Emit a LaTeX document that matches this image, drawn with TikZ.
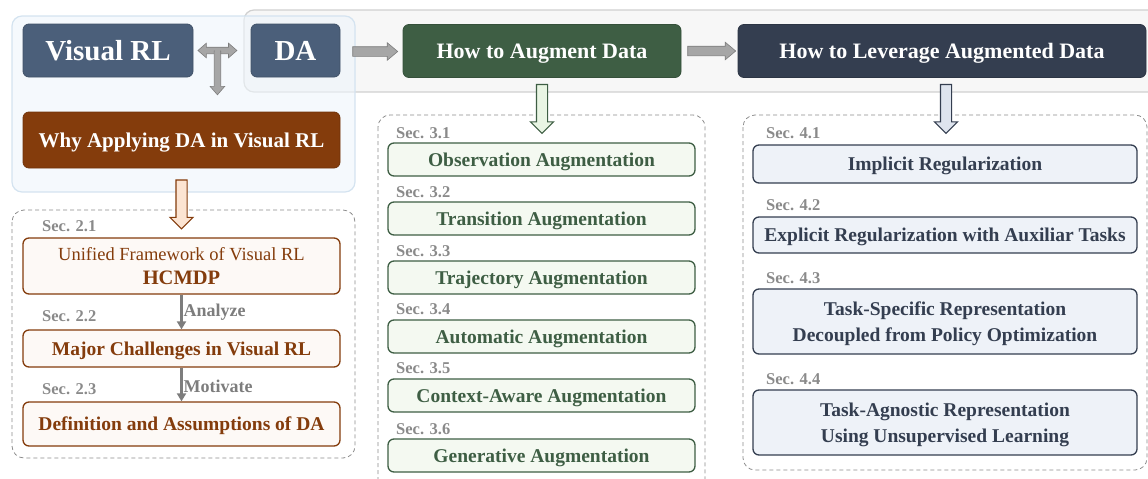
\documentclass[tikz,border=0pt]{standalone}
\usepackage{fontspec}
\setmainfont{Liberation Serif}
\usetikzlibrary{positioning,calc,shapes.arrows,arrows.meta}

\definecolor{slate}{RGB}{75,95,122}
\definecolor{rust}{RGB}{132,60,12}
\definecolor{forest}{RGB}{62,94,68}
\definecolor{navy}{RGB}{52,62,80}
\definecolor{secgray}{RGB}{138,138,138}
\definecolor{fatgray}{RGB}{166,166,166}
\definecolor{fatedge}{RGB}{125,125,125}
\definecolor{bluepanel}{RGB}{238,245,251}
\definecolor{blueedge}{RGB}{212,227,240}
\definecolor{graypanel}{RGB}{247,247,247}
\definecolor{grayedge}{RGB}{208,208,208}
\definecolor{rustfill}{RGB}{253,249,246}
\definecolor{greenfill}{RGB}{244,249,241}
\definecolor{navyfill}{RGB}{238,242,248}
\definecolor{rustarr}{RGB}{252,228,210}
\definecolor{greenarr}{RGB}{233,245,228}
\definecolor{navyarr}{RGB}{222,228,238}

\tikzset{
  topbox/.style={rounded corners=6pt, draw=#1!85!black, line width=0.8pt, fill=#1, text=white,
    inner sep=0pt, minimum height=53pt, text depth=0pt, font=\bfseries\fontsize{22}{24}\selectfont},
  secnum/.style={anchor=west, inner sep=0pt, text=secgray, font=\bfseries\fontsize{16.5}{18}\selectfont},
  subbox/.style={rounded corners=6pt, draw=#1, line width=1.3pt, text=#1, inner sep=0pt,
    align=center, text depth=0pt, font=\bfseries\fontsize{19.5}{26}\selectfont},
  rustbox/.style={subbox=rust, fill=rustfill, minimum width=317pt},
  greenbox/.style={subbox=forest, fill=greenfill, minimum width=307pt, minimum height=33pt},
  navybox/.style={subbox=navy, fill=navyfill, minimum width=384pt},
  dashpanel/.style={draw=black!45, dashed, dash pattern=on 4pt off 3pt, line width=0.8pt, rounded corners=12pt},
  fatarrow/.style={single arrow, draw=fatedge, fill=fatgray, line width=0.6pt, inner xsep=0pt,
    inner ysep=4.5pt, minimum width=17pt, single arrow head extend=4pt, single arrow head indent=0pt,
    single arrow tip angle=80, minimum height=#1},
  tbar/.style={double arrow, draw=fatedge, fill=fatgray, line width=0.6pt, inner xsep=0pt,
    inner ysep=3pt, minimum width=14pt, double arrow head extend=4pt, double arrow head indent=0pt,
    double arrow tip angle=82, minimum height=#1},
  tstem/.style={single arrow, draw=fatedge, fill=fatgray, line width=0.6pt, inner xsep=0pt,
    inner ysep=3pt, minimum width=14pt, single arrow head extend=4pt, single arrow head indent=0pt,
    single arrow tip angle=82, minimum height=#1},
  hollow/.style={single arrow, draw=#1, line width=1.1pt, inner xsep=0pt, inner ysep=5pt,
    minimum width=22pt, single arrow head extend=6pt, single arrow head indent=0pt,
    single arrow tip angle=90, minimum height=49pt, rotate=-90, anchor=tail},
  flow/.style={draw=fatedge, line width=2.4pt, -{Triangle[length=8pt,width=9pt]}},
  flowtext/.style={right, inner sep=1pt, text=fatedge, font=\bfseries\fontsize{18}{20}\selectfont},
}

\begin{document}
\begin{tikzpicture}[x=1pt,y=-1pt]
  \path[use as bounding box, clip] (0,0) rectangle (1148,479);

  % panels
  \draw[draw=grayedge, fill=graypanel, line width=1.2pt, rounded corners=10pt] (244,10) rectangle (1175,92);
  \draw[draw=blueedge, fill=bluepanel, fill opacity=0.6, line width=1.2pt, rounded corners=10pt] (12,16) rectangle (355,192);
  \draw[dashpanel] (12,210) rectangle (355,458);
  \draw[dashpanel] (378,115) rectangle (705,492);
  \draw[dashpanel] (743,115) rectangle (1147,470);

  % top row
  \node[topbox=slate, minimum width=170pt, font=\bfseries\fontsize{29}{31}\selectfont] (vrl) at (108,50.5) {Visual RL};
  \node[topbox=slate, minimum width=89pt, font=\bfseries\fontsize{29}{31}\selectfont] (da) at (295.5,50.5) {DA};
  \node[topbox=forest, minimum width=278pt] (aug) at (542,51) {How to Augment Data};
  \node[topbox=navy, minimum width=408pt] (lev) at (942,51) {How to Leverage Augmented Data};
  \node[topbox=rust, minimum width=317pt, minimum height=56pt, font=\bfseries\fontsize{21}{23}\selectfont] (why) at (181.5,140) {Why Applying DA in Visual RL};

  % gray arrows
  \node[tbar=39pt] (tb) at ($(vrl.east)!0.42!(da.west)$) {};
  \node[tstem=44pt, rotate=-90, anchor=tail] (ts) at (tb.center) {};
  \fill[fatgray] ($(tb.center)+(-2.4,-1.5)$) rectangle ($(tb.center)+(2.4,5)$);
  \node[fatarrow=45pt, anchor=tail] (a1) at ($(da.east)+(12,1)$) {};
  \node[fatarrow=48pt, anchor=tail] (a2) at ($(aug.east)+(6,0)$) {};

  % hollow arrows
  \node[hollow=rust, fill=rustarr] (h1) at ($(why.south)+(0,11)$) {};
  \node[hollow=forest, fill=greenarr] (h2) at ($(aug.south)+(0,6)$) {};
  \node[hollow=navy, fill=navyarr] (h3) at ($(lev.south)+(4,6)$) {};

  % Sec. 2
  \node[secnum] (s21) at (42,226) {Sec. 2.1};
  \node[rustbox, minimum height=56pt, font=\bfseries\fontsize{20.5}{24}\selectfont] (hcmdp) at (181.5,266)
    {{\mdseries\fontsize{18.5}{24}\selectfont Unified Framework of Visual RL}\\HCMDP};
  \node[secnum] (s22) at (42,316) {Sec. 2.2};
  \node[rustbox, minimum height=37pt] (chal) at (181.5,348.5) {Major Challenges in Visual RL};
  \node[secnum] (s23) at (42,389) {Sec. 2.3};
  \node[rustbox, minimum height=44pt] (defn) at (181.5,424) {Definition and Assumptions of DA};
  \draw[flow] (hcmdp) -- (chal) node[flowtext, midway] {Analyze};
  \draw[flow] (chal) -- (defn) node[flowtext, midway, yshift=-2pt] {Motivate};

  % Sec. 3
  \node[secnum] (s31) at (396,133) {Sec. 3.1};
  \node[greenbox] (obs) at (541.5,159.5) {Observation Augmentation};
  \node[secnum] (s32) at (396,192) {Sec. 3.2};
  \node[greenbox] (trans) at (541.5,218.5) {Transition Augmentation};
  \node[secnum] (s33) at (396,251) {Sec. 3.3};
  \node[greenbox] (traj) at (541.5,277.5) {Trajectory Augmentation};
  \node[secnum] (s34) at (396,309) {Sec. 3.4};
  \node[greenbox] (auto) at (541.5,336.5) {Automatic Augmentation};
  \node[secnum] (s35) at (396,368) {Sec. 3.5};
  \node[greenbox] (ctx) at (541.5,395.5) {Context-Aware Augmentation};
  \node[secnum] (s36) at (396,429) {Sec. 3.6};
  \node[greenbox] (gen) at (541.5,455.5) {Generative Augmentation};

  % Sec. 4
  \node[secnum] (s41) at (766,133) {Sec. 4.1};
  \node[navybox, minimum height=38pt] (impl) at (945,164) {Implicit Regularization};
  \node[secnum] (s42) at (766,205) {Sec. 4.2};
  \node[navybox, minimum height=36pt] (expl) at (945,235) {Explicit Regularization with Auxiliar Tasks};
  \node[secnum] (s43) at (766,278) {Sec. 4.3};
  \node[navybox, minimum height=65pt] (spec) at (945,321.5) {Task-Specific Representation\\Decoupled from Policy Optimization};
  \node[secnum] (s44) at (766,379) {Sec. 4.4};
  \node[navybox, minimum height=65pt] (agno) at (945,422.5) {Task-Agnostic Representation\\Using Unsupervised Learning};
\end{tikzpicture}
\end{document}
